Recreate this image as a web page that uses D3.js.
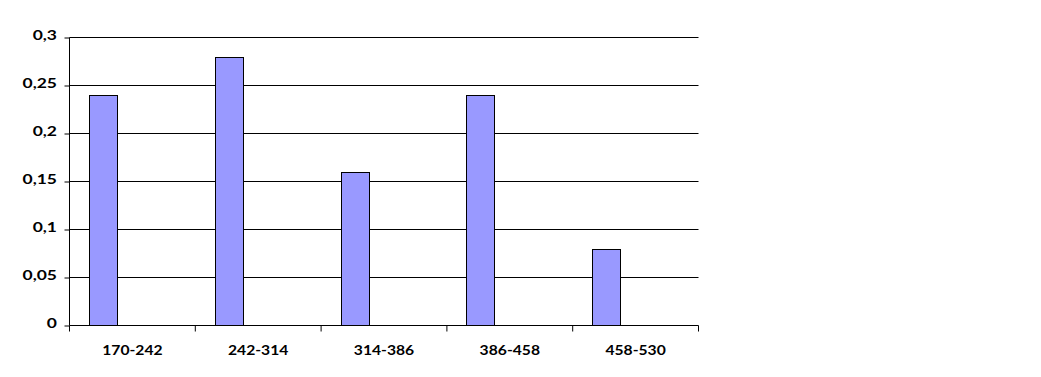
<!DOCTYPE html>
<html><head><meta charset="utf-8">
<script src="https://cdn.jsdelivr.net/npm/d3@7"></script>
<style>body{margin:0;background:#fff}svg{display:block}
text{font-weight:bold;fill:#000;font-family:Lato,"Liberation Sans",sans-serif}
.xl text{font-size:14px}
.yl text{font-size:12.5px}
</style>
</head><body><svg id="c" width="1041" height="377"></svg>
<script>
const categories = ["170-242","242-314","314-386","386-458","458-530"];
const values = [0.24, 0.28, 0.16, 0.24, 0.08];
const yTicks = [0, 0.05, 0.1, 0.15, 0.2, 0.25, 0.3];
const seriesSlots = ["s1","s2","s3"];

const svg = d3.select("#c");
const L = 69.5, R = 698.5, T = 37.5, B = 325.5;
const x = d3.scaleBand().domain(categories).range([69, 698]);
const x1 = d3.scaleBand().domain(seriesSlots).range([0, x.bandwidth()]).paddingOuter(0.7);
const y = d3.scaleLinear().domain([0, 0.3]).range([B, T]);
const fmt = v => String(+v.toFixed(2)).replace(".", ",");

// gridlines
svg.append("g").selectAll("line").data(yTicks.filter(d=>d>0)).join("line")
  .attr("x1", L).attr("x2", R).attr("y1", d=>y(d)).attr("y2", d=>y(d))
  .attr("stroke", "#000").attr("stroke-width", 1);

// bars
svg.append("g").selectAll("rect").data(values).join("rect")
  .attr("x", (d,i)=>Math.round(x(categories[i]) + x1("s1")) + 0.5)
  .attr("width", Math.floor(x1.bandwidth()))
  .attr("y", d=>Math.round(y(d))+0.5)
  .attr("height", d=>B - (Math.round(y(d))+0.5))
  .attr("fill", "#9999FF").attr("stroke", "#000").attr("stroke-width", 1);

// y axis
const ya = svg.append("g").attr("class","yl").attr("transform", `translate(${L},0)`)
  .call(d3.axisLeft(y).tickValues(yTicks).tickFormat(fmt).tickSize(5));
ya.select(".domain").attr("stroke", "#000").attr("d", `M0,${T}V${B}`);
ya.selectAll("text").attr("font-size", null).attr("font-family", null)
  .attr("x", 0).attr("dy", 0).attr("transform", "translate(-12.5,1.5) scale(1.4,1)");

// x axis
const xa = svg.append("g").attr("class","xl").attr("transform", `translate(0,${B})`)
  .call(d3.axisBottom(x).tickSize(0).tickPadding(0));
xa.select(".domain").attr("d", `M${L},0H${R}`).attr("stroke","#000");
xa.selectAll(".tick text").attr("y", 0).attr("dy", 0).attr("font-size", null).attr("font-family", null)
  .attr("transform", "translate(0.5,29) scale(1.12,1)");
// category boundary ticks
svg.append("g").selectAll("line").data(d3.range(categories.length+1)).join("line")
  .attr("x1", i=>L + i*x.bandwidth()).attr("x2", i=>L + i*x.bandwidth())
  .attr("y1", B).attr("y2", B+6).attr("stroke","#000");
</script></body></html>
